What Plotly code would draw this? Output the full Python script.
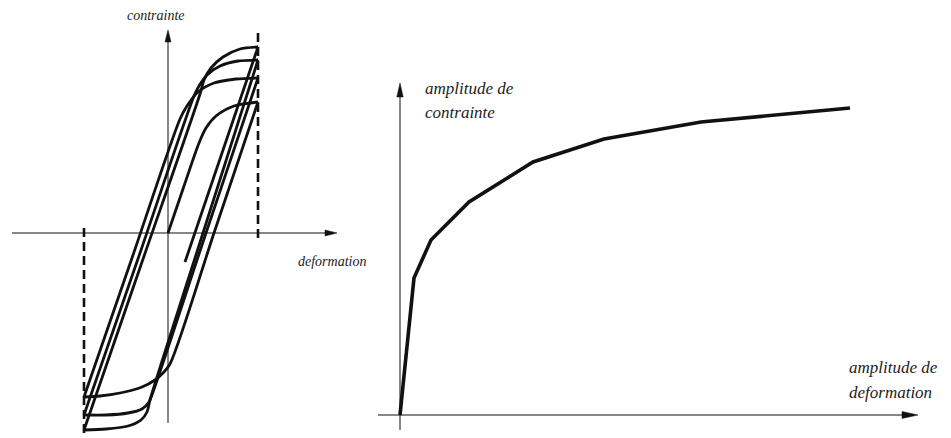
import plotly.graph_objects as go

# ---------------------------------------------------------------------------
# Left sketch: stress-strain hysteresis loops under imposed strain amplitude
# (strain / stress measured from the axis crossing, arbitrary units)
# ---------------------------------------------------------------------------
first_load_eps = [0, 16, 31, 38, 48, 66, 90]
first_load_sig = [0, 47, 90, 105, 117, 127, 131]

down1_eps = [90, 46, 2, -5, -13, -26, -48, -68, -84]
down1_sig = [131, 0, -131, -140, -147, -154, -160, -163, -164]

up1_eps = [-84, -36, 12, 19, 30, 46, 68, 90]
up1_sig = [-164, -25, 114, 127, 141, 150, 154, 155]

down2_eps = [90, 38, -15, -19, -26, -40, -62, -84]
down2_sig = [155, 0, -159, -169, -176, -180, -182, -182]

up2_eps = [-84, -28, 26, 31, 39, 52, 70, 90]
up2_sig = [-182, -20, 137, 147, 158, 167, 172, 173]

down3_eps = [90, 35, -18, -21, -27, -40, -62, -84]
down3_sig = [173, 0, -167, -179, -187, -193, -196, -197]

up3_eps = [-84, -26, 32, 36, 43, 55, 72, 90]
up3_sig = [-197, -29, 139, 153, 165, 176, 184, 186]

last_unload_eps = [90, 17]
last_unload_sig = [186, -29]

# imposed strain limits (dashed bounds)
eps_max = 90
eps_min = -84
eps_max_bound_sig = [200, -8]
eps_min_bound_sig = [5, -205]

# ---------------------------------------------------------------------------
# Right sketch: cyclic curve, stress amplitude vs strain amplitude
# ---------------------------------------------------------------------------
strain_amp = [0, 14, 31, 69, 133, 204, 301, 450]
stress_amp = [0, 137, 175, 213, 253, 276, 293, 307]

INK = "#111111"
TEXT = "#1c1c1c"
FONT = "Liberation Serif"


def arrow_head(tip_x, tip_y, ux, uy, length, half):
    """Filled triangular arrow head pointing along (ux, uy)."""
    bx, by = tip_x - ux * length, tip_y - uy * length
    nx, ny = -uy * half, ux * half
    return ([tip_x, bx + nx, bx - nx, tip_x],
            [tip_y, by + ny, by - ny, tip_y])


fig = go.Figure()

# ---- left panel axes ----
fig.add_trace(go.Scatter(x=[-156, 160], y=[0, 0], mode="lines",
                         line=dict(color=INK, width=1), xaxis="x", yaxis="y"))
fig.add_trace(go.Scatter(x=[0, 0], y=[-190, 195], mode="lines",
                         line=dict(color=INK, width=1), xaxis="x", yaxis="y"))
ax, ay = arrow_head(169, 0, 1, 0, 12, 3)
fig.add_trace(go.Scatter(x=ax, y=ay, mode="lines", fill="toself",
                         fillcolor=INK, line=dict(color=INK, width=0.5),
                         xaxis="x", yaxis="y"))
ax, ay = arrow_head(0, 203, 0, 1, 12, 3)
fig.add_trace(go.Scatter(x=ax, y=ay, mode="lines", fill="toself",
                         fillcolor=INK, line=dict(color=INK, width=0.5),
                         xaxis="x", yaxis="y"))

# ---- dashed strain limits ----
fig.add_trace(go.Scatter(x=[eps_max, eps_max], y=eps_max_bound_sig, mode="lines",
                         line=dict(color=INK, width=2.6, dash="9px,5px"),
                         xaxis="x", yaxis="y"))
fig.add_trace(go.Scatter(x=[eps_min, eps_min], y=eps_min_bound_sig, mode="lines",
                         line=dict(color=INK, width=2.6, dash="9px,5px"),
                         xaxis="x", yaxis="y"))

# ---- hysteresis branches ----
branches = [
    (first_load_eps, first_load_sig),
    (down1_eps, down1_sig),
    (up1_eps, up1_sig),
    (down2_eps, down2_sig),
    (up2_eps, up2_sig),
    (down3_eps, down3_sig),
    (up3_eps, up3_sig),
    (last_unload_eps, last_unload_sig),
]
for eps, sig in branches:
    fig.add_trace(go.Scatter(x=eps, y=sig, mode="lines",
                             line=dict(color=INK, width=2.8, shape="spline",
                                       smoothing=0.8),
                             xaxis="x", yaxis="y"))

# ---- right panel axes ----
fig.add_trace(go.Scatter(x=[-22, 505], y=[0, 0], mode="lines",
                         line=dict(color=INK, width=1), xaxis="x2", yaxis="y2"))
fig.add_trace(go.Scatter(x=[0, 0], y=[-15, 320], mode="lines",
                         line=dict(color=INK, width=1), xaxis="x2", yaxis="y2"))
ax, ay = arrow_head(518, 0, 1, 0, 16, 3.5)
fig.add_trace(go.Scatter(x=ax, y=ay, mode="lines", fill="toself",
                         fillcolor=INK, line=dict(color=INK, width=0.5),
                         xaxis="x2", yaxis="y2"))
ax, ay = arrow_head(0, 332, 0, 1, 14, 3.2)
fig.add_trace(go.Scatter(x=ax, y=ay, mode="lines", fill="toself",
                         fillcolor=INK, line=dict(color=INK, width=0.5),
                         xaxis="x2", yaxis="y2"))

fig.add_trace(go.Scatter(x=strain_amp, y=stress_amp, mode="lines",
                         line=dict(color=INK, width=3.6),
                         xaxis="x2", yaxis="y2"))

# ---- labels ----
def label(text, x, y, xref, yref, size, xanchor):
    fig.add_annotation(text=f"<i>{text}</i>", x=x, y=y, xref=xref, yref=yref,
                       showarrow=False, xanchor=xanchor, yanchor="middle",
                       font=dict(family=FONT, size=size, color=TEXT))

label("contrainte", -12, 218, "x", "y", 14, "center")
label("deformation", 128, -28, "x", "y", 14, "left")
label("amplitude de", 23, 327, "x2", "y2", 17, "left")
label("contrainte", 23, 303, "x2", "y2", 17, "left")
label("amplitude de", 447, 48, "x2", "y2", 17, "left")
label("deformation", 447, 23, "x2", "y2", 17, "left")

hidden = dict(visible=False, showgrid=False, zeroline=False, fixedrange=True)
fig.update_layout(
    width=951, height=438,
    margin=dict(l=0, r=0, t=0, b=0),
    paper_bgcolor="white", plot_bgcolor="white",
    showlegend=False,
    xaxis=dict(range=[-168, 783], domain=[0, 1], **hidden),
    yaxis=dict(range=[-205, 233], domain=[0, 1], **hidden),
    xaxis2=dict(range=[-400, 551], domain=[0, 1], overlaying="x",
                anchor="y2", **hidden),
    yaxis2=dict(range=[-23, 415], domain=[0, 1], overlaying="y",
                anchor="x2", **hidden),
)

fig.write_html("out.html")
